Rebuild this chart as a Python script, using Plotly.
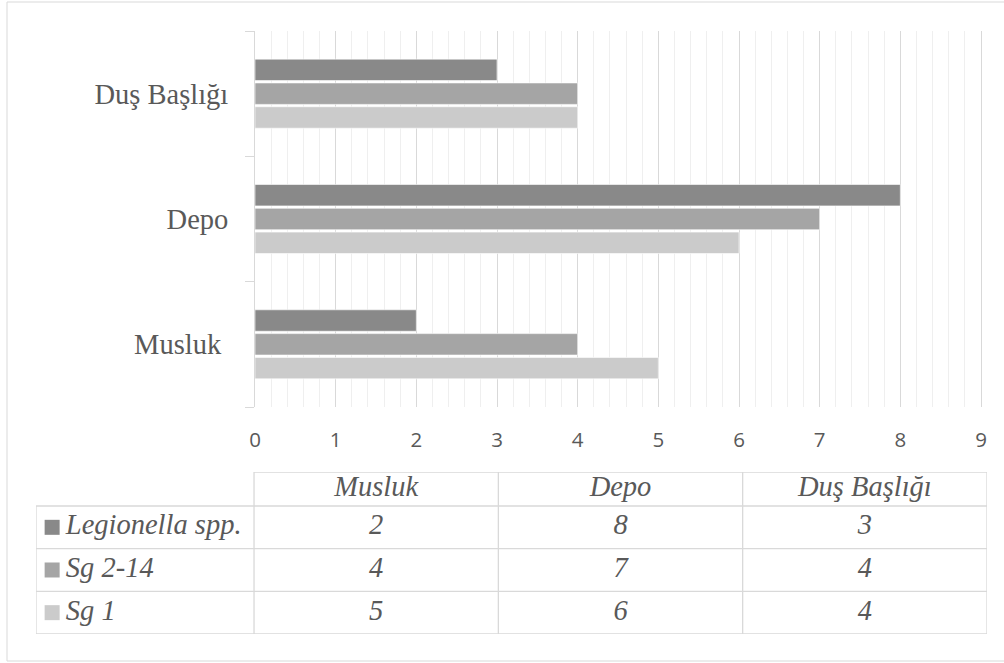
import plotly.graph_objects as go

categories = ["Musluk", "Depo", "Duş Başlığı"]
category_labels = ["Musluk\u00a0", "Depo", "Duş Başlığı"]
series_names = ["Legionella spp.", "Sg 2-14", "Sg 1"]
legionella = [2, 8, 3]
sg2_14 = [4, 7, 4]
sg1 = [5, 6, 4]
x_ticks = [0, 1, 2, 3, 4, 5, 6, 7, 8, 9]

series_colors = ["#898989", "#a5a5a5", "#cbcbcb"]
series_values = [legionella, sg2_14, sg1]

W, H = 1004, 663
TXT = "#595959"
GRID = "#d9d9d9"
SERIF = "Liberation Serif, Times New Roman, serif"
FS = 28.5

# plot area: value 0 at px 255, value 9 at px 981; area runs 3 px past 9 so the
# last gridline is not dropped at the edge
X0_PX, X9_PX, XEND_PX = 255, 981, 984
x_max = max(x_ticks) * (XEND_PX - X0_PX) / (X9_PX - X0_PX)

# table geometry (in table-axis units: one data column = 1, one data row = 1)
LABEL_W = 218 / 244.3      # width of the series-name column
HEAD_H = 34 / 42.7         # height of the header row

fig = go.Figure()

# bars: first trace is drawn at the bottom of each group
for name, vals, col in reversed(list(zip(series_names, series_values, series_colors))):
    fig.add_trace(go.Bar(
        y=categories, x=vals, name=name, orientation="h",
        marker=dict(color=col, line=dict(color="white", width=0.6)),
        showlegend=False, hoverinfo="x+y",
        xaxis="x", yaxis="y",
    ))

# ---- data table drawn on its own axes ----
n_cols = len(categories)
n_rows = len(series_names)
tfont = dict(family=SERIF, size=FS, color=TXT, style="italic")

# header texts
fig.add_trace(go.Scatter(
    x=[i + 0.5 for i in range(n_cols)], y=[-HEAD_H / 2] * n_cols,
    text=categories, mode="text", textposition="middle center", textfont=tfont,
    xaxis="x2", yaxis="y2", showlegend=False, hoverinfo="skip", cliponaxis=False,
))
# cell values
cx, cy, ct = [], [], []
for r, vals in enumerate(series_values):
    for c, v in enumerate(vals):
        cx.append(c + 0.5)
        cy.append(r + 0.5)
        ct.append(str(v))
fig.add_trace(go.Scatter(
    x=cx, y=cy, text=ct, mode="text", textposition="middle center", textfont=tfont,
    xaxis="x2", yaxis="y2", showlegend=False, hoverinfo="skip", cliponaxis=False,
))
# series names with legend keys
fig.add_trace(go.Scatter(
    x=[-LABEL_W + 0.122] * n_rows, y=[r + 0.5 for r in range(n_rows)],
    text=series_names, mode="text", textposition="middle right", textfont=tfont,
    xaxis="x2", yaxis="y2", showlegend=False, hoverinfo="skip", cliponaxis=False,
))
fig.add_trace(go.Scatter(
    x=[-LABEL_W + 0.066] * n_rows, y=[r + 0.5 for r in range(n_rows)],
    mode="markers", marker=dict(symbol="square", size=15, color=series_colors),
    xaxis="x2", yaxis="y2", showlegend=False, hoverinfo="skip", cliponaxis=False,
))

shapes = []
line_style = dict(color=GRID, width=1.3)
# horizontal table lines
shapes.append(dict(type="line", xref="x2", yref="y2", x0=0, x1=n_cols,
                   y0=-HEAD_H, y1=-HEAD_H, line=line_style))
for r in range(n_rows + 1):
    shapes.append(dict(type="line", xref="x2", yref="y2", x0=-LABEL_W, x1=n_cols,
                       y0=r, y1=r, line=line_style))
# vertical table lines
shapes.append(dict(type="line", xref="x2", yref="y2", x0=-LABEL_W, x1=-LABEL_W,
                   y0=0, y1=n_rows, line=line_style))
for c in range(n_cols + 1):
    shapes.append(dict(type="line", xref="x2", yref="y2", x0=c, x1=c,
                       y0=-HEAD_H, y1=n_rows, line=line_style))
# outer chart border
shapes.append(dict(
    type="rect", xref="paper", yref="paper",
    x0=7 / W, x1=1.02, y0=1 - 661 / H, y1=1 - 2 / H,
    line=dict(color=GRID, width=1), fillcolor="rgba(0,0,0,0)", layer="below",
))

fig.update_layout(
    template="none",
    width=W, height=H,
    margin=dict(l=0, r=0, t=0, b=0, pad=0, autoexpand=False),
    paper_bgcolor="white", plot_bgcolor="white",
    barmode="group", bargap=0.43, bargroupgap=0.1,
    xaxis=dict(
        domain=[X0_PX / W, XEND_PX / W], range=[0, x_max], automargin=False,
        tickvals=x_ticks, ticks="", showline=False, zeroline=False,
        showgrid=True, gridcolor=GRID, gridwidth=1,
        minor=dict(tick0=0, dtick=0.2, showgrid=True, gridcolor="#efefef", gridwidth=1),
        tickfont=dict(family="Open Sans, Liberation Sans, sans-serif", size=20.5, color=TXT),
        ticklabelstandoff=18,
    ),
    yaxis=dict(
        domain=[1 - 407 / H, 1 - 31 / H], range=[-0.5, 2.5], automargin=False,
        tickmode="array", tickvals=categories, ticktext=category_labels,
        tickson="boundaries", ticks="outside", ticklen=9, tickcolor=GRID,
        showline=True, linecolor=GRID, linewidth=1, showgrid=False, zeroline=False,
        tickfont=dict(family=SERIF, size=FS, color=TXT),
        ticklabelstandoff=20,
    ),
    xaxis2=dict(
        domain=[36 / W, 987 / W], range=[-LABEL_W, n_cols], anchor="y2",
        visible=False, fixedrange=True, automargin=False,
    ),
    yaxis2=dict(
        domain=[1 - 634 / H, 1 - 472 / H], range=[n_rows, -HEAD_H], anchor="x2",
        visible=False, fixedrange=True, automargin=False,
    ),
    shapes=shapes,
)

fig.write_html("out.html")
